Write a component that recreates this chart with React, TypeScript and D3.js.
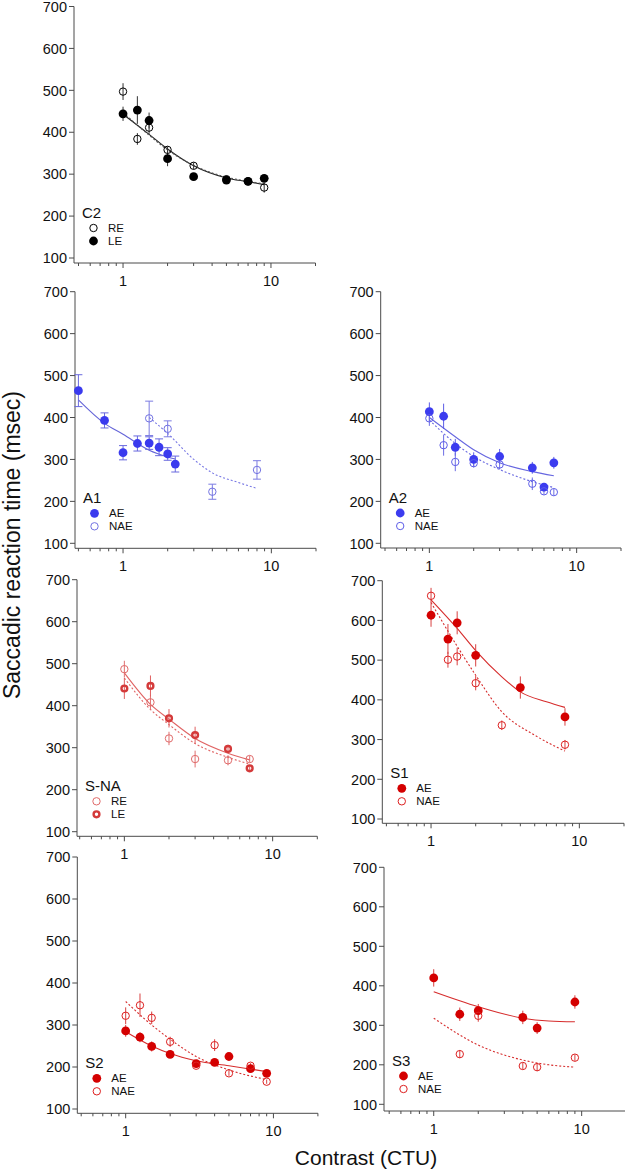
import React from 'react';
import * as d3 from 'd3';

// ---------- DATA ----------
const yTickValues = [100, 200, 300, 400, 500, 600, 700];
const xMajorTicks = [1, 10];
const xMinorTicks = [0.5, 0.6, 0.7, 0.8, 0.9, 2, 3, 4, 5, 6, 7, 8, 9, 20];
const yAxisTitle = 'Saccadic reaction time (msec)';
const xAxisTitle = 'Contrast (CTU)';

// C2
const c2X = [1, 1.25, 1.5, 2, 3, 5, 7, 9];
const c2RE = [497, 384, 411, 358, 320, 288, 283, 268];
const c2REErr = [20, 14, 15, 8, 8, 8, 8, 12];
const c2LE = [444, 453, 428, 337, 294, 286, 283, 290];
const c2LEErr = [17, 33, 19, 18, 6, 8, 6, 6];
const c2FitX = [1, 1.5, 2, 3, 5, 7, 9];
const c2REFit = [443, 395, 360, 320, 291, 282, 275];
const c2LEFit = [447, 393, 358, 321, 293, 283, 277];

// A1
const a1AEX = [0.5, 0.75, 1, 1.25, 1.5, 1.75, 2, 2.25];
const a1AE = [464, 393, 316, 338, 339, 329, 313, 289];
const a1AEErr = [38, 18, 17, 18, 15, 20, 15, 19];
const a1NAEX = [1.5, 2, 4, 8];
const a1NAE = [398, 373, 223, 275];
const a1NAEErr = [41, 19, 18, 22];
const a1AEFitX = [0.5, 0.75, 1, 1.5, 2, 2.25];
const a1AEFit = [442, 386, 360, 322, 306, 301];
const a1NAEFitX = [1.5, 2, 3, 4, 6, 8];
const a1NAEFit = [400, 362, 300, 268, 245, 231];

// A2
const a2X = [1, 1.25, 1.5, 2, 3, 5, 6, 7];
const a2AE = [414, 403, 329, 300, 307, 280, 234, 292];
const a2AEErr = [22, 30, 20, 17, 18, 14, 10, 14];
const a2NAE = [398, 334, 294, 291, 288, 242, 224, 222];
const a2NAEErr = [18, 25, 22, 10, 12, 15, 8, 8];
const a2FitX = [1, 1.5, 2, 3, 5, 7];
const a2AEFit = [400, 354, 323, 292, 271, 261];
const a2NAEFit = [394, 338, 307, 276, 247, 233];

// S-NA
const snaX = [1, 1.5, 2, 3, 5, 7];
const snaRE = [487, 408, 322, 273, 270, 273];
const snaREErr = [20, 18, 16, 20, 12, 8];
const snaLE = [441, 447, 370, 330, 297, 251];
const snaLEErr = [25, 25, 22, 20, 10, 6];
const snaFitX = [1, 1.5, 2, 3, 5, 7];
const snaREFit = [478, 403, 368, 322, 287, 271];
const snaLEFit = [466, 391, 355, 310, 277, 261];

// S1
const s1AEX = [1, 1.3, 1.5, 2, 4, 8];
const s1AE = [613, 553, 594, 512, 431, 357];
const s1AEErr = [29, 38, 29, 28, 28, 22];
const s1NAEX = [1, 1.3, 1.5, 2, 3, 8];
const s1NAE = [662, 501, 509, 442, 336, 287];
const s1NAEErr = [20, 20, 22, 18, 12, 12];
const s1AEFitX = [1, 1.5, 2, 3, 4, 6, 8];
const s1AEFit = [652, 580, 524, 458, 420, 395, 381];
const s1NAEFitX = [1, 1.5, 2, 3, 5, 8];
const s1NAEFit = [645, 535, 462, 370, 311, 271];

// S2
const s2X = [1, 1.25, 1.5, 2, 3, 4, 5, 7, 9];
const s2AE = [286, 271, 249, 230, 208, 211, 225, 196, 185];
const s2AEErr = [14, 12, 12, 6, 6, 6, 5, 6, 6];
const s2NAE = [322, 347, 317, 260, 203, 252, 185, 203, 165];
const s2NAEErr = [20, 28, 15, 12, 6, 14, 6, 6, 5];
const s2FitX = [1, 1.5, 2, 3, 5, 9];
const s2AEFit = [284, 250, 232, 215, 203, 189];
const s2NAEFit = [356, 300, 266, 225, 193, 170];

// S3
const s3AEX = [1, 1.5, 2, 4, 5, 9];
const s3AE = [420, 328, 337, 320, 293, 359];
const s3AEErr = [22, 17, 17, 17, 15, 17];
const s3NAEX = [1.5, 2, 4, 5, 9];
const s3NAE = [227, 324, 197, 194, 218];
const s3NAEErr = [10, 15, 8, 10, 8];
const s3FitX = [1, 2, 4, 6, 9];
const s3AEFit = [385, 347, 318, 311, 309];
const s3NAEFit = [318, 250, 212, 200, 194];

// ---------- STYLE / LAYOUT ----------
const FONT = '"Liberation Sans", Arial, Helvetica, sans-serif';
const AXIS = '#4a4a4a';

type Marker = 'filled' | 'open' | 'thick';
interface SeriesDef {
  name: string;
  x: number[];
  y: number[];
  err: number[];
  marker: Marker;
  color: string;
  errColor: string;
  fitX: number[];
  fitY: number[];
  fitColor: string;
  dashed: boolean;
}
interface PanelDef {
  label: string;
  ax: number; x0: number; x1: number; yTop: number; yBot: number; axisY: number;
  caps: boolean;
  series: SeriesDef[]; // legend order
}

const BLK = { c: '#000', e: '#333', f: '#222' };
const RED = { ae: '#d40000', nae: '#dd2020', e: '#d84040', f: '#d62c2c' };

const panels: PanelDef[] = [
  {
    label: 'C2', ax: 74, x0: 78.5, x1: 315.5, yTop: 6.5, yBot: 258, axisY: 263, caps: false,
    series: [
      { name: 'RE', x: c2X, y: c2RE, err: c2REErr, marker: 'open', color: BLK.c, errColor: BLK.e, fitX: c2FitX, fitY: c2REFit, fitColor: BLK.f, dashed: false },
      { name: 'LE', x: c2X, y: c2LE, err: c2LEErr, marker: 'filled', color: BLK.c, errColor: BLK.e, fitX: c2FitX, fitY: c2LEFit, fitColor: '#555', dashed: true },
    ],
  },
  {
    label: 'A1', ax: 75, x0: 78.4, x1: 316, yTop: 291.7, yBot: 543.3, axisY: 548.3, caps: true,
    series: [
      { name: 'AE', x: a1AEX, y: a1AE, err: a1AEErr, marker: 'filled', color: '#3a3aee', errColor: '#6868de', fitX: a1AEFitX, fitY: a1AEFit, fitColor: '#6565d8', dashed: false },
      { name: 'NAE', x: a1NAEX, y: a1NAE, err: a1NAEErr, marker: 'open', color: '#7272e2', errColor: '#7c7ce2', fitX: a1NAEFitX, fitY: a1NAEFit, fitColor: '#7878e4', dashed: true },
    ],
  },
  {
    label: 'A2', ax: 380.7, x0: 385, x1: 621, yTop: 291.7, yBot: 543.3, axisY: 548, caps: false,
    series: [
      { name: 'AE', x: a2X, y: a2AE, err: a2AEErr, marker: 'filled', color: '#3c3cef', errColor: '#5c5ce6', fitX: a2FitX, fitY: a2AEFit, fitColor: '#6666e0', dashed: false },
      { name: 'NAE', x: a2X, y: a2NAE, err: a2NAEErr, marker: 'open', color: '#5e5ee8', errColor: '#6c6ce4', fitX: a2FitX, fitY: a2NAEFit, fitColor: '#6666e0', dashed: true },
    ],
  },
  {
    label: 'S-NA', ax: 77, x0: 79.7, x1: 317.3, yTop: 579.7, yBot: 831.7, axisY: 836.3, caps: false,
    series: [
      { name: 'RE', x: snaX, y: snaRE, err: snaREErr, marker: 'open', color: '#e06a6a', errColor: '#e07070', fitX: snaFitX, fitY: snaREFit, fitColor: '#e06464', dashed: false },
      { name: 'LE', x: snaX, y: snaLE, err: snaLEErr, marker: 'thick', color: '#d43a3a', errColor: '#e06060', fitX: snaFitX, fitY: snaLEFit, fitColor: '#e06464', dashed: true },
    ],
  },
  {
    label: 'S1', ax: 382.3, x0: 386.4, x1: 624, yTop: 580.7, yBot: 819, axisY: 823.3, caps: false,
    series: [
      { name: 'AE', x: s1AEX, y: s1AE, err: s1AEErr, marker: 'filled', color: RED.ae, errColor: RED.e, fitX: s1AEFitX, fitY: s1AEFit, fitColor: RED.f, dashed: false },
      { name: 'NAE', x: s1NAEX, y: s1NAE, err: s1NAEErr, marker: 'open', color: RED.nae, errColor: RED.e, fitX: s1NAEFitX, fitY: s1NAEFit, fitColor: RED.f, dashed: true },
    ],
  },
  {
    label: 'S2', ax: 77.3, x0: 81.2, x1: 317.9, yTop: 857, yBot: 1109, axisY: 1113.3, caps: false,
    series: [
      { name: 'AE', x: s2X, y: s2AE, err: s2AEErr, marker: 'filled', color: RED.ae, errColor: RED.e, fitX: s2FitX, fitY: s2AEFit, fitColor: RED.f, dashed: false },
      { name: 'NAE', x: s2X, y: s2NAE, err: s2NAEErr, marker: 'open', color: RED.nae, errColor: RED.e, fitX: s2FitX, fitY: s2NAEFit, fitColor: RED.f, dashed: true },
    ],
  },
  {
    label: 'S3', ax: 384, x0: 389.2, x1: 626.2, yTop: 867.3, yBot: 1104.3, axisY: 1111, caps: false,
    series: [
      { name: 'AE', x: s3AEX, y: s3AE, err: s3AEErr, marker: 'filled', color: RED.ae, errColor: RED.e, fitX: s3FitX, fitY: s3AEFit, fitColor: RED.f, dashed: false },
      { name: 'NAE', x: s3NAEX, y: s3NAE, err: s3NAEErr, marker: 'open', color: RED.nae, errColor: RED.e, fitX: s3FitX, fitY: s3NAEFit, fitColor: RED.f, dashed: true },
    ],
  },
];

function MarkerShape({ cx, cy, marker, color }: { cx: number; cy: number; marker: Marker; color: string }) {
  if (marker === 'filled') return <circle cx={cx} cy={cy} r={4.4} fill={color} />;
  if (marker === 'thick') return <circle cx={cx} cy={cy} r={2.9} fill="none" stroke={color} strokeWidth={2.4} />;
  return <circle cx={cx} cy={cy} r={3.7} fill="none" stroke={color} strokeWidth={1} />;
}

function Panel({ p }: { p: PanelDef }) {
  const x = d3.scaleLog().domain([0.5, 20]).range([p.x0, p.x1]);
  const y = d3.scaleLinear().domain([100, 700]).range([p.yBot, p.yTop]);
  const line = d3
    .line<[number, number]>()
    .x((d) => x(d[0]))
    .y((d) => y(d[1]))
    .curve(d3.curveMonotoneX);

  return (
    <g>
      {/* axes */}
      <line x1={p.ax} x2={p.ax} y1={y(700)} y2={p.axisY} stroke={AXIS} strokeWidth={1} />
      <line x1={p.ax} x2={x(20)} y1={p.axisY} y2={p.axisY} stroke={AXIS} strokeWidth={1} />
      {yTickValues.map((t) => (
        <g key={'y' + t}>
          <line x1={p.ax - 5} x2={p.ax} y1={y(t)} y2={y(t)} stroke={AXIS} />
          <text x={p.ax - 7} y={y(t)} dy="0.36em" textAnchor="end" fontSize={14.5} fontFamily={FONT} fill="#111">
            {t}
          </text>
        </g>
      ))}
      {xMinorTicks.map((t) => (
        <line key={'xm' + t} x1={x(t)} x2={x(t)} y1={p.axisY} y2={p.axisY + 3} stroke={AXIS} />
      ))}
      {xMajorTicks.map((t) => (
        <g key={'xM' + t}>
          <line x1={x(t)} x2={x(t)} y1={p.axisY} y2={p.axisY + 5} stroke={AXIS} />
          <text x={x(t)} y={p.axisY + 23} textAnchor="middle" fontSize={14.5} fontFamily={FONT} fill="#111">
            {t}
          </text>
        </g>
      ))}

      {/* fits */}
      {p.series.map((s, i) => (
        <path
          key={'fit' + i}
          d={line(s.fitX.map((v, k) => [v, s.fitY[k]] as [number, number])) || ''}
          fill="none"
          stroke={s.fitColor}
          strokeWidth={1.1}
          strokeDasharray={s.dashed ? '2,2' : undefined}
        />
      ))}

      {/* error bars */}
      {p.series.map((s, i) =>
        s.x.map((v, k) => (
          <g key={'e' + i + '-' + k} stroke={s.errColor} strokeWidth={1}>
            <line x1={x(v)} x2={x(v)} y1={y(s.y[k] - s.err[k])} y2={y(s.y[k] + s.err[k])} />
            {p.caps && (
              <>
                <line x1={x(v) - 4} x2={x(v) + 4} y1={y(s.y[k] - s.err[k])} y2={y(s.y[k] - s.err[k])} />
                <line x1={x(v) - 4} x2={x(v) + 4} y1={y(s.y[k] + s.err[k])} y2={y(s.y[k] + s.err[k])} />
              </>
            )}
          </g>
        ))
      )}

      {/* markers */}
      {p.series.map((s, i) =>
        s.x.map((v, k) => <MarkerShape key={'m' + i + '-' + k} cx={x(v)} cy={y(s.y[k])} marker={s.marker} color={s.color} />)
      )}

      {/* legend */}
      <text x={p.ax + 8} y={p.axisY - 45} fontSize={15} fontFamily={FONT} fill="#111">
        {p.label}
      </text>
      {p.series.map((s, i) => (
        <g key={'lg' + i}>
          <MarkerShape cx={p.ax + 19.5} cy={p.axisY - 35 + i * 13} marker={s.marker} color={s.color} />
          <text x={p.ax + 34} y={p.axisY - 35 + i * 13} dy="0.36em" fontSize={11.5} fontFamily={FONT} fill="#111">
            {s.name}
          </text>
        </g>
      ))}
    </g>
  );
}

export default function App() {
  return (
    <svg
      width={625}
      height={1171}
      viewBox="0 0 625 1171"
      style={{ position: 'absolute', left: 0, top: 0, background: '#fff' }}
    >
      <rect width={625} height={1171} fill="#fff" />
      {panels.map((p) => (
        <Panel key={p.label} p={p} />
      ))}
      <text
        transform="translate(20,545) rotate(-90)"
        textAnchor="middle"
        fontSize={23}
        fontFamily={FONT}
        fill="#111"
      >
        {yAxisTitle}
      </text>
      <text x={366} y={1165} textAnchor="middle" fontSize={21} fontFamily={FONT} fill="#111">
        {xAxisTitle}
      </text>
    </svg>
  );
}
